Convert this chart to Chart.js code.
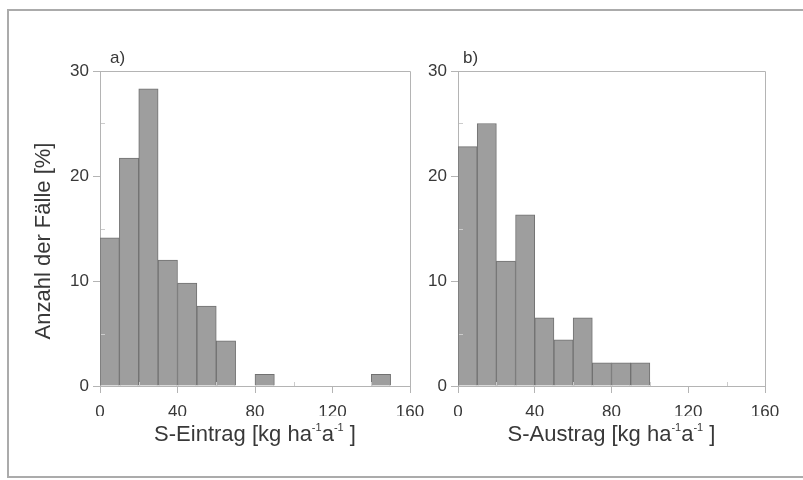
<!DOCTYPE html>
<html>
<head>
<meta charset="utf-8">
<script src="https://cdn.jsdelivr.net/npm/chart.js@4/dist/chart.umd.min.js"></script>
<style>
  html, body { margin: 0; padding: 0; background: #fff; }
  #wrap { position: relative; width: 803px; height: 480px; overflow: hidden; background: #fff; }
  #frame { position: absolute; left: 7px; top: 9px; width: 805px; height: 469px;
           border: 2px solid #ababab; box-sizing: border-box; }
  canvas { position: absolute; left: 0; top: 0; }
</style>
</head>
<body>
<div id="wrap">
  <div id="frame"></div>
  <canvas id="chartA" width="803" height="480"></canvas>
  <canvas id="chartB" width="803" height="480"></canvas>
</div>
<script>
// Histogram classes: lower bin edges in kg ha^-1 a^-1, 10 wide
const binStarts = [0, 10, 20, 30, 40, 50, 60, 70, 80, 90, 100, 110, 120, 130, 140, 150];
const binWidth = 10;

// Share of cases per class [%]
const eintragPct = [14.1, 21.7, 28.3, 12.0, 9.8, 7.6, 4.3, null, 1.1, null, null, null, null, null, 1.1, null];
const austragPct = [22.8, 25.0, 11.9, 16.3, 6.5, 4.4, 6.5, 2.2, 2.2, 2.2, null, null, null, null, null, null];

// Axis ticks
const xTicks = [0, 40, 80, 120, 160];
const yTicks = [0, 10, 20, 30];
const xMinorTicks = [20, 60, 100, 140];
const yMinorTicks = [5, 15, 25];

// Text
const panelLabels = ['a)', 'b)'];
const yTitle = 'Anzahl der Fälle [%]';
const xTitleA = [['S-Eintrag [kg ha', false], ['-1', true], ['a', false], ['-1', true], [' ]', false]];
const xTitleB = [['S-Austrag [kg ha', false], ['-1', true], ['a', false], ['-1', true], [' ]', false]];

const FONT = '"Liberation Sans", Arial, Helvetica, sans-serif';
const TEXT = '#383838';
const AXIS = '#b4b4b4';

function toPoints(values) {
  return binStarts.map((s, i) => ({ x: s + binWidth / 2, y: values[i] }));
}

// Frame, minor ticks, panel label and axis titles
function decorPlugin(cfg) {
  return {
    id: 'decor',
    afterDraw(chart) {
      const { ctx, chartArea: a, scales } = chart;
      const xs = scales.x, ys = scales.y;
      ctx.save();

      // top and right frame of the plot box
      ctx.strokeStyle = AXIS;
      ctx.lineWidth = 1;
      ctx.beginPath();
      ctx.moveTo(a.left, Math.round(a.top) + 0.5);
      ctx.lineTo(Math.round(a.right) + 0.5, Math.round(a.top) + 0.5);
      ctx.lineTo(Math.round(a.right) + 0.5, a.bottom);
      ctx.stroke();

      // small inward minor ticks
      ctx.strokeStyle = '#cccccc';
      ctx.beginPath();
      yMinorTicks.forEach(v => {
        const y = Math.round(ys.getPixelForValue(v)) + 0.5;
        ctx.moveTo(a.left + 1, y); ctx.lineTo(a.left + 5, y);
      });
      xMinorTicks.forEach(v => {
        const x = Math.round(xs.getPixelForValue(v)) + 0.5;
        ctx.moveTo(x, a.bottom); ctx.lineTo(x, a.bottom - 4);
      });
      ctx.stroke();

      ctx.fillStyle = TEXT;

      // panel label
      ctx.font = '17px ' + FONT;
      ctx.textAlign = 'left';
      ctx.textBaseline = 'alphabetic';
      ctx.fillText(cfg.label, cfg.labelX, 63);

      // x-axis title with superscripts
      const big = '22px ' + FONT, small = '11px ' + FONT;
      let total = 0;
      cfg.xTitle.forEach(([t, sup]) => { ctx.font = sup ? small : big; total += ctx.measureText(t).width; });
      let x = (a.left + a.right) / 2 - total / 2;
      const base = 441;
      cfg.xTitle.forEach(([t, sup]) => {
        ctx.font = sup ? small : big;
        ctx.fillText(t, x, sup ? base - 10 : base);
        x += ctx.measureText(t).width;
      });

      // y-axis title
      if (cfg.yTitle) {
        ctx.translate(44, 241);
        ctx.rotate(-Math.PI / 2);
        ctx.font = '22px ' + FONT;
        ctx.textAlign = 'center';
        ctx.textBaseline = 'middle';
        ctx.fillText(cfg.yTitle, 0, 0);
      }
      ctx.restore();
    }
  };
}

function makeChart(id, values, padding, cfg) {
  return new Chart(document.getElementById(id), {
    type: 'bar',
    data: {
      datasets: [{
        data: toPoints(values),
        backgroundColor: '#9e9e9e',
        borderColor: '#717171',
        borderWidth: 1,
        barPercentage: 1.0,
        categoryPercentage: 1.0
      }]
    },
    options: {
      responsive: false,
      animation: false,
      events: [],
      layout: { padding },
      plugins: { legend: { display: false }, tooltip: { enabled: false } },
      scales: {
        x: {
          type: 'linear',
          offset: false,
          min: 0, max: 160,
          afterBuildTicks: s => { s.ticks = xTicks.map(v => ({ value: v })); },
          afterFit: s => { s.height = 30; },
          border: { color: AXIS, width: 1 },
          grid: { offset: false, drawOnChartArea: false, tickLength: 7, color: AXIS },
          ticks: { color: TEXT, font: { family: FONT, size: 17 }, padding: 9, maxRotation: 0 }
        },
        y: {
          min: 0, max: 30,
          afterBuildTicks: s => { s.ticks = yTicks.map(v => ({ value: v })); },
          afterFit: s => { s.width = 100; },
          border: { color: AXIS, width: 1 },
          grid: { drawOnChartArea: false, tickLength: 7, color: AXIS },
          ticks: { color: TEXT, font: { family: FONT, size: 17 }, padding: 4 }
        }
      }
    },
    plugins: [decorPlugin(cfg)]
  });
}

makeChart('chartA', eintragPct, { left: 0, top: 71, right: 393, bottom: 64 },
  { label: panelLabels[0], labelX: 110, xTitle: xTitleA, yTitle: yTitle });
makeChart('chartB', austragPct, { left: 358, top: 71, right: 38, bottom: 64 },
  { label: panelLabels[1], labelX: 463, xTitle: xTitleB, yTitle: null });
</script>
</body>
</html>
